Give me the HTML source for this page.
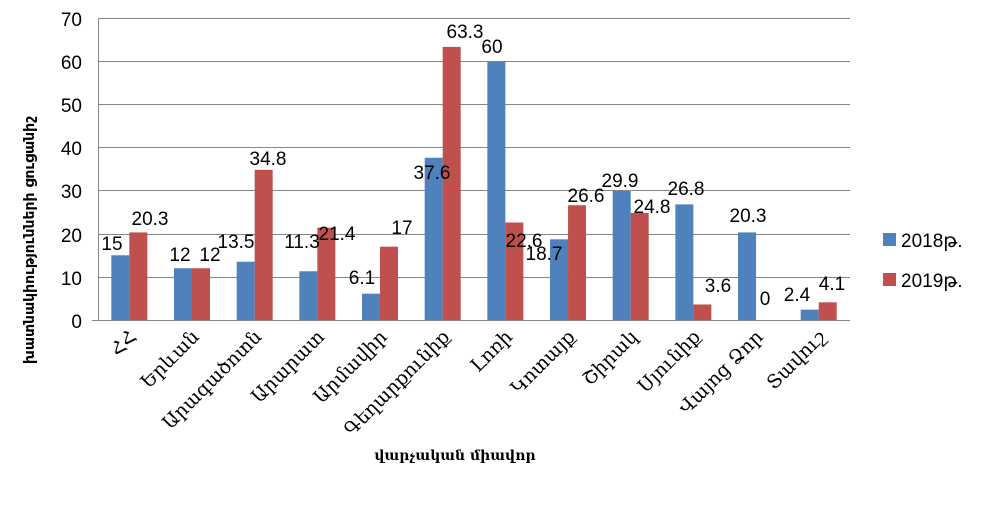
<!DOCTYPE html>
<html><head><meta charset="utf-8"><style>
html,body{margin:0;padding:0;background:#fff;}
svg{display:block;}
.t{font-family:"Liberation Sans","DejaVu Sans",sans-serif;font-size:19px;fill:#000;}
.a{font-family:"DejaVu Serif","DejaVu Sans",serif;font-size:19px;fill:#000;}
</style></head><body>
<svg width="983" height="506" viewBox="0 0 983 506" xmlns="http://www.w3.org/2000/svg">
<g stroke="#868686" stroke-width="1">
<line x1="98" y1="18.5" x2="850" y2="18.5"/>
<line x1="98" y1="61.5" x2="850" y2="61.5"/>
<line x1="98" y1="104.5" x2="850" y2="104.5"/>
<line x1="98" y1="147.5" x2="850" y2="147.5"/>
<line x1="98" y1="190.5" x2="850" y2="190.5"/>
<line x1="98" y1="234.5" x2="850" y2="234.5"/>
<line x1="98" y1="277.5" x2="850" y2="277.5"/>
<line x1="92" y1="320.5" x2="850" y2="320.5"/>
<line x1="98.5" y1="18" x2="98.5" y2="320"/>
</g>
<g class="t" text-anchor="end">
<text x="82" y="26">70</text><text x="82" y="69">60</text><text x="82" y="112">50</text>
<text x="82" y="155">40</text><text x="82" y="198">30</text><text x="82" y="242">20</text>
<text x="82" y="285">10</text><text x="82" y="328">0</text>
</g>
<g id="bars"></g>
<g class="t" text-anchor="middle">
<text x="112" y="250">15</text><text x="150" y="225">20.3</text>
<text x="180" y="261">12</text><text x="210" y="261">12</text>
<text x="236" y="248">13.5</text><text x="268" y="165">34.8</text>
<text x="302" y="248">11.3</text><text x="337" y="240">21.4</text>
<text x="362" y="284">6.1</text><text x="402" y="234">17</text>
<text x="432" y="179">37.6</text><text x="465" y="38">63.3</text>
<text x="492" y="53">60</text><text x="524" y="247">22.6</text>
<text x="544" y="260">18.7</text><text x="586" y="202">26.6</text>
<text x="620" y="187">29.9</text><text x="652" y="213">24.8</text>
<text x="686" y="195">26.8</text><text x="718" y="292">3.6</text>
<text x="748" y="222">20.3</text><text x="765" y="305">0</text>
<text x="797" y="301">2.4</text><text x="832" y="290">4.1</text>
</g>
<g id="xl" class="a" text-anchor="end"></g>
<text x="455" y="460" text-anchor="middle" style="font-family:'DejaVu Serif',serif;font-size:14px;font-weight:bold">վարչական միավոր</text>
<text transform="translate(34,240) rotate(-90)" text-anchor="middle" style="font-family:'DejaVu Sans',sans-serif;font-size:14px;font-weight:bold">խատնակիությունների ցուցանիշ</text>
<rect x="883" y="233" width="13" height="13" fill="#4F81BD"/>
<text class="t" x="901" y="247">2018թ.</text>
<rect x="883" y="273" width="13" height="13" fill="#C0504D"/>
<text class="t" x="901" y="287">2019թ.</text>
<script>
var d1=[15,12,13.5,11.3,6.1,37.6,60,18.7,29.9,26.8,20.3,2.4];
var d2=[20.3,12,34.8,21.4,17,63.3,22.6,26.6,24.8,3.6,0,4.1];
var names=["ՀՀ","Երևան","Արագածոտն","Արարատ","Արմավիր","Գեղարքունիք","Լոռի","Կոտայք","Շիրակ","Սյունիք","Վայոց Ձոր","Տավուշ"];
var ns="http://www.w3.org/2000/svg",b=document.getElementById("bars"),xl=document.getElementById("xl");
var k=302/70;
for(var i=0;i<12;i++){
 var c=98+62.67*(i+0.5);
 [[d1[i],c-18,"#4F81BD"],[d2[i],c,"#C0504D"]].forEach(function(v){
  if(v[0]<=0)return;
  var r=document.createElementNS(ns,"rect");
  r.setAttribute("x",v[1]);r.setAttribute("width",18);
  r.setAttribute("y",320-v[0]*k);r.setAttribute("height",v[0]*k);
  r.setAttribute("fill",v[2]);b.appendChild(r);
 });
 var t=document.createElementNS(ns,"text");
 t.setAttribute("transform","translate("+(c+8)+",338) rotate(-45)");
 t.textContent=names[i];xl.appendChild(t);
}
</script>
</svg>
</body></html>
